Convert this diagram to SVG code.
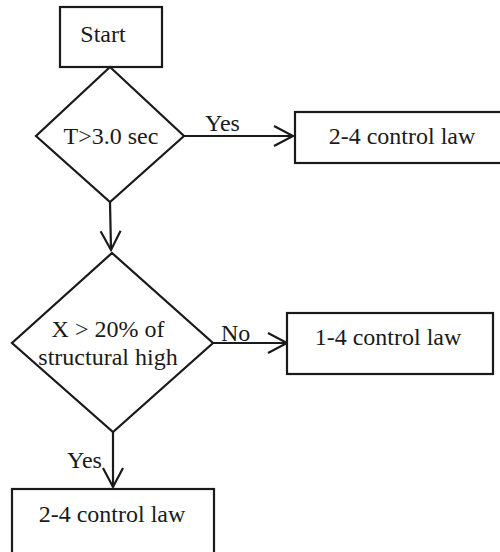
<svg xmlns="http://www.w3.org/2000/svg" width="500" height="552" viewBox="0 0 500 552">
<defs>
<marker id="arr" markerUnits="userSpaceOnUse" markerWidth="30" markerHeight="30" viewBox="0 0 30 30" refX="22" refY="15" orient="auto">
<path d="M3,5 L22,15 L3,25" fill="none" stroke="#1a1a1a" stroke-width="2.2"/>
</marker>
</defs>
<g font-family="Liberation Serif, serif" font-size="24">
<g id="connectors">
<g fill="none" stroke="#1a1a1a" stroke-width="2.2">
<line x1="184" y1="136" x2="293" y2="136" marker-end="url(#arr)"/>
<line x1="110" y1="202" x2="111" y2="250" marker-end="url(#arr)"/>
<line x1="213" y1="343" x2="287" y2="343" marker-end="url(#arr)"/>
<line x1="113" y1="432" x2="113" y2="487" marker-end="url(#arr)"/>
</g>
<g fill="#1a1a1a">
<text x="205" y="131">Yes</text>
<text x="221" y="341">No</text>
<text x="67" y="468">Yes</text>
</g>
</g>
<g fill="#1a1a1a" text-anchor="middle">
<g id="start">
<rect x="60" y="7" width="102" height="60" fill="#fff" stroke="#1a1a1a" stroke-width="2.2"/>
<text x="103" y="42">Start</text>
</g>
<g id="decision1">
<polygon points="110,67 184,136 110,202 36,136" fill="#fff" stroke="#1a1a1a" stroke-width="2.2"/>
<text x="111" y="144">T&gt;3.0 sec</text>
</g>
<g id="law1">
<rect x="295" y="112" width="210" height="51" fill="#fff" stroke="#1a1a1a" stroke-width="2.2"/>
<text x="402" y="144">2-4 control law</text>
</g>
<g id="decision2">
<polygon points="112,253 213,343 113,432 12,343" fill="#fff" stroke="#1a1a1a" stroke-width="2.2"/>
<text x="108" y="337">X &gt; 20% of</text>
<text x="108" y="365">structural high</text>
</g>
<g id="law2">
<rect x="287" y="313" width="206" height="61" fill="#fff" stroke="#1a1a1a" stroke-width="2.2"/>
<text x="388" y="345">1-4 control law</text>
</g>
<g id="law3">
<rect x="12" y="489" width="202" height="75" fill="#fff" stroke="#1a1a1a" stroke-width="2.2"/>
<text x="112" y="522">2-4 control law</text>
</g>
</g>
</g>
</svg>
